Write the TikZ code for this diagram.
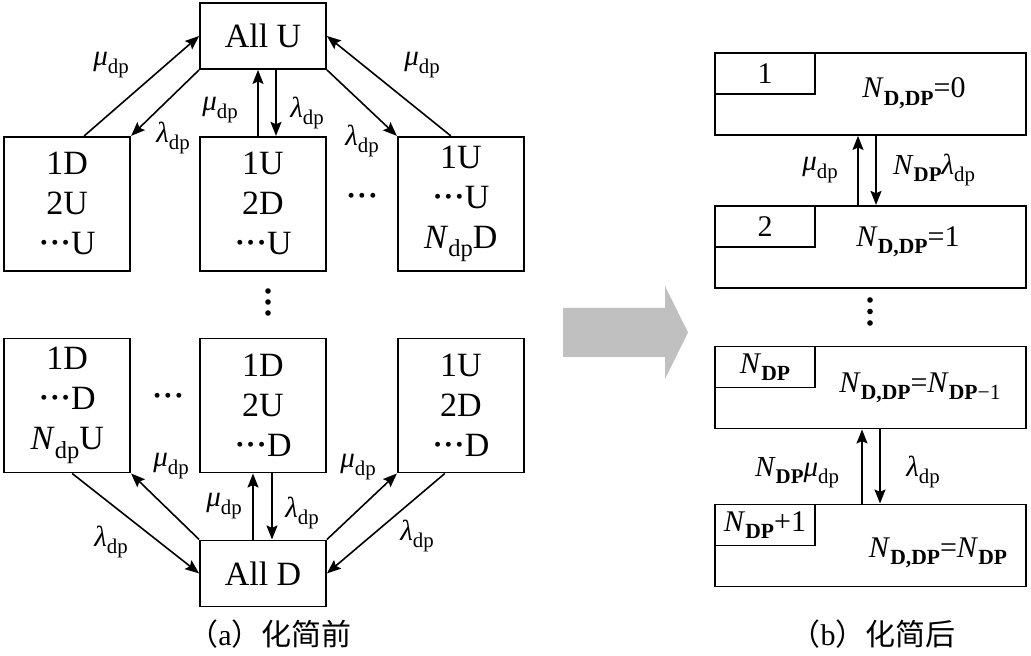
\documentclass[tikz,border=0pt]{standalone}
\usepackage{graphicx}
\usepackage{fontspec}
\setmainfont{Liberation Serif}
\newfontfamily\cjk{Noto Sans CJK SC}
\usepackage{tikz}
\usetikzlibrary{positioning,arrows.meta}
\newcommand\boxfont{\fontsize{17}{20}\selectfont}
\newcommand\lblfont{\fontsize{14.5}{16}\selectfont}
\newcommand\levfont{\fontsize{15}{17}\selectfont}
\newcommand\capfont{\fontsize{15}{17}\selectfont}
\newcommand\sbs[1]{\raisebox{-0.25em}{\scalebox{0.72}{#1}}}
\newcommand\onedot{\hbox to 0.32em{\hss\raisebox{0.15em}{\scalebox{0.6}{•}}\hss}}
\newcommand\ddd{\onedot\onedot\onedot}
\newcommand\mudp{\textit{μ}\sbs{dp}}
\newcommand\lamdp{\textit{λ}\sbs{dp}}
\newcommand\Ndp{\textit{N}\sbs{dp}}
\newcommand\NDP{\textit{N}\sbs{\textbf{DP}}}
\newcommand\NDDP{\textit{N}\sbs{\textbf{D,DP}}}
\definecolor{arrowgray}{RGB}{192,192,192}
\tikzset{
  cellbox/.style={draw, line width=0.9pt, minimum width=63pt, minimum height=67pt,
                  inner sep=0pt, align=center, font=\boxfont},
  allbox/.style={cellbox, minimum height=33pt},
  lvbox/.style={draw, line width=0.9pt, minimum width=155.5pt, minimum height=41pt, inner sep=0pt},
  tagbox/.style={draw, line width=0.9pt, minimum width=50pt, minimum height=20.5pt,
                 inner sep=0pt, anchor=north west, font=\levfont},
  lvtext/.style={inner sep=0pt, font=\levfont},
  lbl/.style={inner sep=0pt, font=\lblfont},
  flow/.style={-{Stealth[length=7pt,width=5.5pt,inset=1.2pt]}, line width=0.8pt},
}
\begin{document}
\begin{tikzpicture}[x=0.5pt, y=-0.5pt, node distance=33pt]
\useasboundingbox (0,0) rectangle (1031,656);
% (a) full state space
\node[allbox] (allU) at (263,36) {All U};
\node[cellbox, below=of allU] (s1) {1U\\2D\\\ddd U};
\node[cellbox, left=34pt of s1] (s0) {1D\\2U\\\ddd U};
\node[cellbox, right=35pt of s1] (s2) {1U\\\ddd U\\\Ndp D};
\node[cellbox, below=of s1] (t1) {1D\\2U\\\ddd D};
\node[cellbox, left=34pt of t1] (t0) {1D\\\ddd D\\\Ndp U};
\node[cellbox, right=35pt of t1] (t2) {1U\\2D\\\ddd D};
\node[allbox, below=of t1] (allD) {All D};
\node[font=\boxfont, inner sep=0pt] (hd1) at (362,200) {\ddd};
\node[font=\boxfont, inner sep=0pt] (hd2) at (168,400) {\ddd};
\foreach \y in {291,302,313} \fill (268,\y) circle (1.4pt);
% upper transitions
\draw[flow] ([xshift=8.5pt]s0.north) -- (allU.west);
\draw[flow] (allU.south west) -- (s0.north east);
\draw[flow] ([xshift=-2.5pt]s1.north) -- ([xshift=-2.5pt]allU.south);
\draw[flow] ([xshift=6.5pt]allU.south) -- ([xshift=6.5pt]s1.north);
\draw[flow] (allU.south east) -- (s2.north west);
\draw[flow] ([xshift=-5pt]s2.north) -- (allU.east);
% lower transitions
\draw[flow] ([xshift=2.5pt]t0.south) -- (allD.west);
\draw[flow] (allD.north west) -- (t0.south east);
\draw[flow] ([xshift=-5pt]allD.north) -- ([xshift=-5pt]t1.south);
\draw[flow] ([xshift=4.5pt]t1.south) -- ([xshift=4.5pt]allD.north);
\draw[flow] (allD.north east) -- (t2.south west);
\draw[flow] ([xshift=-8pt]t2.south) -- (allD.east);
\node[lbl] (la1) at (111,65) {\mudp};
\node[lbl] (la2) at (173,138) {\lamdp};
\node[lbl] (la3) at (220,110) {\mudp};
\node[lbl] (la4) at (307,113) {\lamdp};
\node[lbl] (la5) at (362,141) {\lamdp};
\node[lbl] (la6) at (422,65) {\mudp};
\node[lbl] (la7) at (111,542) {\lamdp};
\node[lbl] (la8) at (171,466) {\mudp};
\node[lbl] (la9) at (224,506) {\mudp};
\node[lbl] (la10) at (302,513) {\lamdp};
\node[lbl] (la11) at (358,467) {\mudp};
\node[lbl] (la12) at (417,536) {\lamdp};
\node[font=\capfont, inner sep=0pt] (capa) at (270,634) {{\cjk （}a{\cjk ）化简前}};
% reduction arrow
\fill[arrowgray] (563,308) -- (665,308) -- (665,286) -- (688,332.5) -- (665,379)
  -- (665,357) -- (563,357) -- cycle;
% (b) lumped chain
\node[lvbox] (b1) at (870.5,94) {};
\node[lvbox, below=34.5pt of b1] (b2) {};
\node[lvbox, below=28.5pt of b2] (b3) {};
\node[lvbox, below=37pt of b3] (b4) {};
\node[tagbox] (g1) at (b1.north west) {1};
\node[tagbox] (g2) at (b2.north west) {2};
\node[tagbox] (g3) at (b3.north west) {\NDP};
\node[tagbox] (g4) at (b4.north west) {\NDP+1};
\node[lvtext] (n1) at (914,93) {\NDDP=0};
\node[lvtext] (n2) at (908,242) {\NDDP=1};
\node[lvtext] (n3) at (920,388) {\NDDP=\textit{N}\sbs{\textbf{DP}−1}};
\node[lvtext] (n4) at (938,553) {\NDDP=\NDP};
\foreach \y in {300,311.5,323} \fill (870,\y) circle (1.4pt);
\draw[flow] ([xshift=-6.25pt]b2.north) -- ([xshift=-6.25pt]b1.south);
\draw[flow] ([xshift=2.75pt]b1.south) -- ([xshift=2.75pt]b2.north);
\draw[flow] ([xshift=-4.25pt]b4.north) -- ([xshift=-4.25pt]b3.south);
\draw[flow] ([xshift=4.75pt]b3.south) -- ([xshift=4.75pt]b4.north);
\node[lbl] (lb1) at (820,170) {\mudp};
\node[lbl] (lb2) at (934,170) {\NDP\textit{λ}\sbs{dp}};
\node[lbl] (lb3) at (797,473) {\NDP\textit{μ}\sbs{dp}};
\node[lbl] (lb4) at (923,472) {\lamdp};
\node[font=\capfont, inner sep=0pt] (capb) at (873,634) {{\cjk （}b{\cjk ）化简后}};
\end{tikzpicture}
\end{document}
